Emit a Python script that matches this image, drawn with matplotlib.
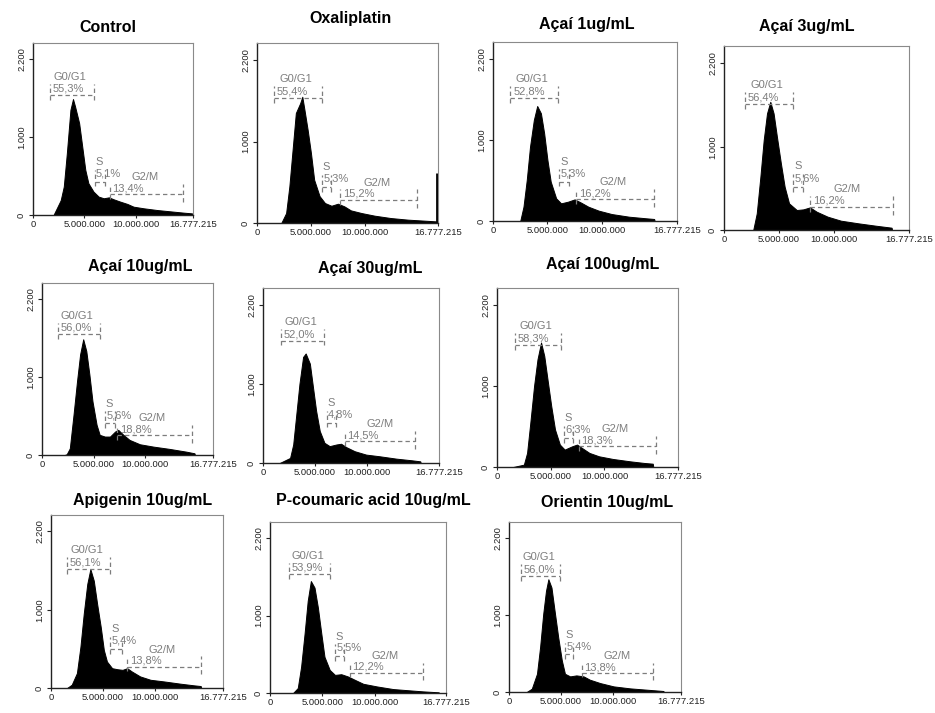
import numpy as np
import matplotlib
matplotlib.use("Agg")
import matplotlib.pyplot as plt

plt.rcParams['font.family'] = ['Liberation Sans', 'DejaVu Sans']

titles = ['Control', 'Oxaliplatin', 'Açaí 1ug/mL', 'Açaí 3ug/mL',
          'Açaí 10ug/mL', 'Açaí 30ug/mL', 'Açaí 100ug/mL',
          'Apigenin 10ug/mL', 'P-coumaric acid 10ug/mL', 'Orientin 10ug/mL']

g1_pct = ['55,3%', '55,4%', '52,8%', '56,4%', '56,0%', '52,0%', '58,3%', '56,1%', '53,9%', '56,0%']
s_pct = ['5,1%', '5,3%', '5,3%', '5,6%', '5,6%', '4,8%', '6,3%', '5,4%', '5,5%', '5,4%']
g2_pct = ['13,4%', '15,2%', '16,2%', '16,2%', '18,8%', '14,5%', '18,3%', '13,8%', '12,2%', '13,8%']

# gate markers (x in millions of channel units, y in counts)
g1_x0 = [1.7, 1.6, 1.6, 1.9, 1.6, 1.75, 1.7, 1.55, 1.85, 1.2]
g1_x1 = [5.9, 6.0, 6.0, 6.25, 5.6, 5.9, 6.0, 5.7, 5.7, 4.9]
g1_y = [1536, 1530, 1514, 1512, 1552, 1545, 1504, 1519, 1532, 1509]
s_x0 = [6.0, 6.0, 6.1, 6.25, 6.1, 6.1, 6.2, 5.7, 6.2, 5.4]
s_x1 = [7.0, 6.9, 7.0, 7.2, 7.1, 7.05, 7.1, 6.9, 7.1, 6.2]
s_y = [429, 440, 486, 520, 409, 510, 360, 500, 480, 490]
g2_x0 = [7.5, 7.7, 7.65, 7.8, 7.3, 7.85, 7.6, 7.35, 7.6, 7.0]
g2_x1 = [14.6, 14.8, 14.8, 15.3, 14.6, 14.6, 14.8, 14.45, 14.6, 13.9]
g2_y = [270, 285, 267, 280, 259, 277, 256, 274, 264, 250]

# DNA content histograms (x in millions)
hist_x = [
    [2.0, 2.7, 3.0, 3.3, 3.65, 3.9, 4.1, 4.5, 4.8, 5.1, 5.4, 5.9, 6.4, 6.9, 7.4, 7.9, 8.5, 9.2, 9.8, 10.8, 12.1, 13.4, 14.7, 15.5, 15.6],
    [2.25, 2.7, 3.0, 3.3, 3.6, 4.0, 4.2, 4.4, 4.7, 5.0, 5.3, 5.8, 6.3, 6.9, 7.5, 8.1, 8.7, 9.7, 10.9, 12.4, 14.0, 15.5, 16.6, 16.7],
    [2.5, 2.8, 3.1, 3.4, 3.75, 4.06, 4.4, 4.7, 5.0, 5.3, 5.8, 6.25, 6.9, 7.5, 8.1, 8.75, 9.7, 10.9, 12.5, 14.1, 14.8, 14.85],
    [2.65, 2.97, 3.3, 3.6, 3.9, 4.2, 4.5, 4.8, 5.16, 5.5, 5.9, 6.6, 7.2, 7.8, 8.4, 9.4, 10.6, 12.2, 13.75, 15.2, 15.25],
    [2.2, 2.4, 2.7, 3.06, 3.4, 3.7, 4.0, 4.3, 4.6, 4.9, 5.3, 5.6, 6.1, 6.6, 7.1, 7.4, 7.9, 8.5, 9.5, 10.8, 12.4, 14.0, 14.8, 14.85],
    [1.6, 2.6, 2.9, 3.2, 3.5, 3.85, 4.1, 4.5, 4.8, 5.1, 5.45, 5.9, 6.4, 7.05, 7.5, 8.0, 8.8, 9.9, 11.2, 12.8, 14.3, 15.1, 15.15],
    [1.5, 2.5, 2.8, 3.1, 3.45, 3.77, 4.1, 4.4, 4.7, 5.05, 5.4, 5.85, 6.3, 7.0, 7.45, 7.9, 8.6, 9.5, 10.8, 12.4, 13.7, 14.5, 14.55],
    [1.55, 2.0, 2.5, 2.84, 3.16, 3.5, 3.8, 4.13, 4.45, 4.8, 5.1, 5.4, 5.9, 6.4, 6.9, 7.35, 7.8, 8.6, 9.6, 10.9, 12.5, 13.8, 14.45, 14.5],
    [2.2, 2.65, 2.97, 3.3, 3.6, 3.9, 4.25, 4.57, 4.9, 5.2, 5.7, 6.2, 6.8, 7.45, 8.1, 8.9, 10.2, 11.75, 13.35, 14.6, 16.1, 16.15],
    [1.7, 2.2, 2.7, 3.0, 3.3, 3.57, 3.8, 4.1, 4.4, 4.75, 5.1, 5.4, 5.9, 6.5, 7.2, 7.8, 8.8, 10.1, 11.7, 13.3, 14.9, 14.95],
]
hist_y = [
    [0, 190, 365, 794, 1352, 1490, 1395, 1180, 880, 580, 408, 300, 236, 215, 227, 200, 172, 142, 107, 86, 64, 47, 30, 21, 0],
    [0, 122, 450, 900, 1350, 1470, 1550, 1390, 1140, 860, 530, 330, 245, 212, 237, 204, 155, 122, 90, 61, 41, 29, 20, 0],
    [0, 177, 506, 918, 1247, 1420, 1330, 1082, 753, 486, 280, 218, 239, 267, 226, 177, 128, 86, 53, 33, 25, 0],
    [0, 200, 640, 1080, 1400, 1540, 1400, 1120, 800, 520, 320, 240, 248, 272, 220, 160, 112, 80, 52, 28, 0],
    [0, 10, 86, 517, 948, 1293, 1487, 1336, 1034, 690, 388, 259, 237, 237, 302, 323, 259, 194, 138, 108, 78, 43, 22, 0],
    [0, 64, 234, 617, 1000, 1340, 1383, 1255, 957, 660, 404, 255, 213, 234, 243, 200, 149, 106, 85, 55, 34, 21, 0],
    [0, 29, 174, 545, 1000, 1330, 1537, 1372, 1083, 752, 463, 277, 215, 256, 277, 236, 174, 132, 99, 70, 50, 41, 0],
    [0, 42, 190, 527, 949, 1329, 1519, 1371, 1076, 780, 485, 338, 253, 240, 232, 253, 211, 148, 105, 84, 55, 34, 25, 0],
    [0, 64, 340, 766, 1191, 1447, 1362, 1106, 766, 468, 298, 234, 243, 213, 170, 119, 85, 51, 34, 21, 9, 0],
    [0, 43, 237, 582, 1013, 1315, 1466, 1358, 1056, 711, 409, 237, 203, 216, 203, 160, 116, 73, 47, 30, 13, 0],
]
# off-scale events piled up in the last channel
edge_counts = [0, 610, 0, 0, 0, 0, 0, 0, 0, 0]

# panel boxes in pixels: left, right, top, bottom ; visible x range (millions) ; title centre
boxes = [(33, 193, 43, 215), (257, 438, 43, 223), (493, 677, 42, 221), (724, 909, 46, 230),
         (42, 213, 283, 455), (263, 439, 288, 463), (497, 678, 288, 467),
         (51, 223, 515, 688), (270, 446, 522, 693), (509, 681, 522, 692)]
x_max = [15.6, 16.78, 16.9, 16.78, 16.6, 16.9, 16.85, 16.6, 16.8, 16.6]
title_xy = [(108, 28), (350, 18), (587, 25), (807, 27), (140, 266), (370, 268), (603, 265),
            (143, 500), (373, 500), (607, 503)]

W, H = 935, 713
fig = plt.figure(figsize=(W / 100, H / 100), dpi=100)
gate_col = '#7d7d7d'
dash = (0, (3.5, 2.5))

for i in range(len(titles)):
    l, r, t, b = boxes[i]
    ax = fig.add_axes([l / W, 1 - b / H, (r - l) / W, (b - t) / H])
    hx = np.array(hist_x[i]) * 1e6
    ax.fill_between(hx, hist_y[i], color='black', lw=0.7, edgecolor='black')
    if edge_counts[i]:
        ax.vlines(16.65e6, 0, edge_counts[i], color='black', lw=2)

    # G0/G1 marker
    x0, x1, y = g1_x0[i] * 1e6, g1_x1[i] * 1e6, g1_y[i]
    ax.plot([x0, x1], [y, y], color=gate_col, lw=0.9, ls=dash)
    ax.plot([x0, x0], [y - 60, y + 150], color=gate_col, lw=0.9, ls=dash)
    ax.plot([x1, x1], [y - 60, y + 150], color=gate_col, lw=0.9, ls=dash)
    ax.text(x0 + 0.25e6, y + 20, g1_pct[i], color=gate_col, fontsize=8, va='bottom', ha='left')
    ax.text((x0 + x1) / 2 - 0.2e6, y + 175, 'G0/G1', color=gate_col, fontsize=8, va='bottom', ha='center')

    # S marker
    x0, x1, y = s_x0[i] * 1e6, s_x1[i] * 1e6, s_y[i]
    ax.plot([x0, x1], [y, y], color=gate_col, lw=0.9, ls=dash)
    ax.plot([x0, x0], [y - 60, y + 150], color=gate_col, lw=0.9, ls=dash)
    ax.plot([x1, x1], [y - 60, y + 150], color=gate_col, lw=0.9, ls=dash)
    ax.text(x0 + 0.15e6, y + 40, s_pct[i], color=gate_col, fontsize=8, va='bottom', ha='left')
    ax.text(x0 + 0.45e6, y + 185, 'S', color=gate_col, fontsize=8, va='bottom', ha='center')

    # G2/M marker
    x0, x1, y = g2_x0[i] * 1e6, g2_x1[i] * 1e6, g2_y[i]
    ax.plot([x0, x1], [y, y], color=gate_col, lw=0.9, ls=dash)
    ax.plot([x0, x0], [y - 60, y + 130], color=gate_col, lw=0.9, ls=dash)
    ax.plot([x1, x1], [y - 100, y + 130], color=gate_col, lw=0.9, ls=dash)
    ax.text(x0 + 0.25e6, y + 10, g2_pct[i], color=gate_col, fontsize=8, va='bottom', ha='left')
    ax.text(x0 + 3.4e6, y + 150, 'G2/M', color=gate_col, fontsize=8, va='bottom', ha='center')

    xm = x_max[i] * 1e6
    ax.set_xlim(0, xm)
    ax.set_ylim(0, 2210)
    ax.set_xticks([0, 5e6, 10e6, xm])
    ax.set_xticklabels(['0', '5.000.000', '10.000.000', '16.777.215'], fontsize=6.8, color='#222222')
    ax.set_yticks([0, 1000, 2000])
    ax.set_yticklabels(['0', '1.000', '2.200'], fontsize=6.8, color='#222222', rotation=90, va='center')
    ax.tick_params(direction='out', length=3, width=0.8, pad=2, colors='#222222')
    ax.tick_params(axis='x', length=2, pad=1.5)
    for side in ['top', 'right']:
        ax.spines[side].set_color('#8a8a8a')
        ax.spines[side].set_linewidth(0.8)
    for side in ['left', 'bottom']:
        ax.spines[side].set_color('#222222')
        ax.spines[side].set_linewidth(1.0)

    tx, ty = title_xy[i]
    fig.text(tx / W, 1 - ty / H, titles[i], fontsize=11.5, fontweight='bold', ha='center', va='center')

fig.savefig('out.png', dpi=100)
